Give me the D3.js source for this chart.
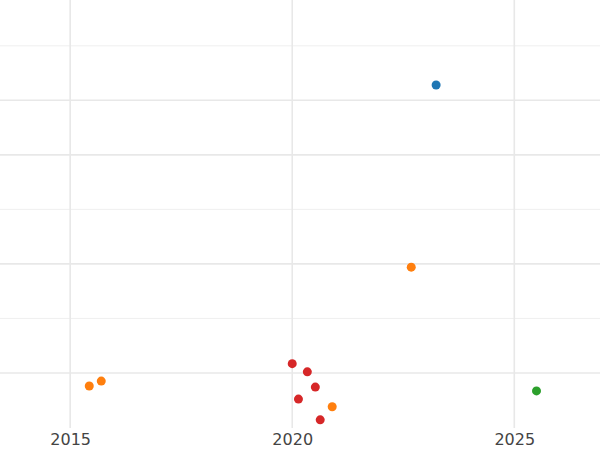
<!DOCTYPE html><html><head><script src="https://cdn.jsdelivr.net/npm/d3@7"></script>
<style>body{margin:0}</style></head><body><svg id="c" width="600" height="450"></svg><script>
const groups=["blue","orange","red","green"];
const colors=["#1f77b4","#ff7f0e","#d62728","#2ca02c"];
const xs=[[2023.24],[2022.68,2015.43,2015.70,2020.90],[2020.0,2020.34,2020.52,2020.14,2020.63],[2025.50]];
const ys=[[5.28],[1.94,-0.24,-0.15,-0.62],[0.17,0.02,-0.26,-0.48,-0.86],[-0.33]];
const xTicks=[2015,2020,2025];
const yMajor=[0,2,4,5];
const yMinor=[1,3,6];
const svg=d3.select("#c");
const x=d3.scaleLinear().domain([2013.42,2026.93]).range([0,600]);
const y=d3.scaleLinear().domain([-1.01,6.84]).range([428,0]);
const g=svg.append("g");
g.selectAll(".mn").data(yMinor).join("line").attr("x1",0).attr("x2",600).attr("y1",d=>y(d)).attr("y2",d=>y(d)).attr("stroke","#efefef").attr("stroke-width",1);
g.selectAll(".mj").data(yMajor).join("line").attr("x1",0).attr("x2",600).attr("y1",d=>y(d)).attr("y2",d=>y(d)).attr("stroke","#e8e8e8").attr("stroke-width",1.6);
g.selectAll(".vx").data(xTicks).join("line").attr("x1",d=>x(d)).attr("x2",d=>x(d)).attr("y1",0).attr("y2",428).attr("stroke","#e8e8e8").attr("stroke-width",1.6);
svg.append("g").attr("transform","translate(0,428)").call(d3.axisBottom(x).tickValues(xTicks).tickFormat(d3.format("d")).tickSize(0).tickPadding(6))
 .call(a=>a.select(".domain").remove()).selectAll("text").attr("font-family","DejaVu Sans").attr("font-size",16).attr("fill","#444");
groups.forEach((gname,i)=>{
 svg.append("g").selectAll("circle").data(xs[i].map((v,j)=>[v,ys[i][j]])).join("circle")
  .attr("cx",d=>x(d[0])).attr("cy",d=>y(d[1])).attr("r",4.5).attr("fill",colors[i]);
});
</script></body></html>
